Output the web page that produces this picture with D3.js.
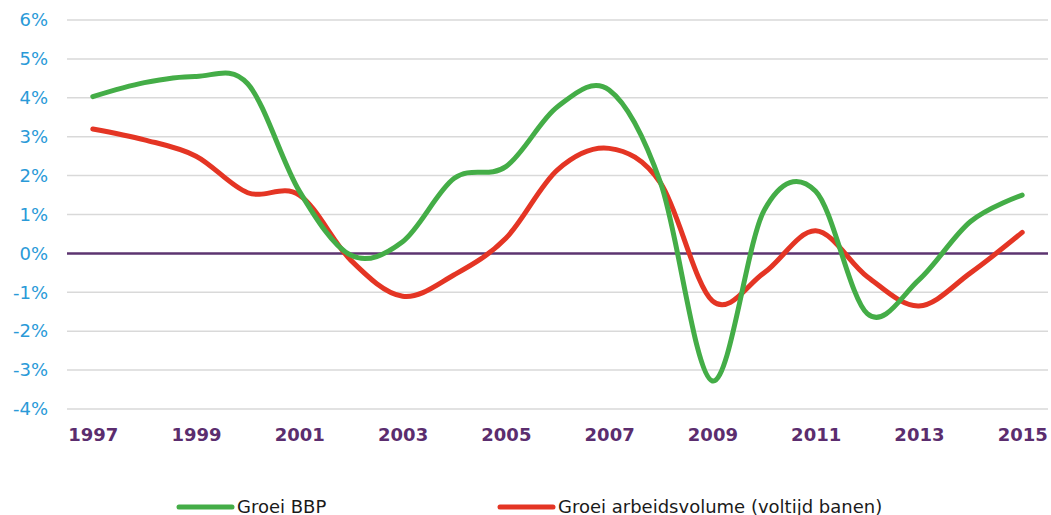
<!DOCTYPE html>
<html>
<head>
<meta charset="utf-8">
<script src="https://cdnjs.cloudflare.com/ajax/libs/d3/7.8.5/d3.min.js"></script>
<style>
  body { margin: 0; background: #fff; }
  svg { display: block; font-family: "DejaVu Sans", Verdana, sans-serif; }
</style>
</head>
<body>
<svg id="chart" width="1051" height="515"></svg>
<script>

// jaren en reeksen (groei in %)
var years = [1997,1998,1999,2000,2001,2002,2003,2004,2005,2006,2007,2008,2009,2010,2011,2012,2013,2014,2015]
var groeiBBP = [4.03,4.39,4.55,4.36,1.6,-0.05,0.3,1.93,2.23,3.77,4.2,1.8,-3.28,1.1,1.6,-1.55,-0.68,0.82,1.5]
var groeiArbeid = [3.2,2.92,2.5,1.56,1.5,-0.18,-1.1,-0.55,0.39,2.15,2.7,1.8,-1.22,-0.5,0.58,-0.6,-1.35,-0.5,0.54]
var yTicks = [-4,-3,-2,-1,0,1,2,3,4,5,6]
var xTicks = [1997,1999,2001,2003,2005,2007,2009,2011,2013,2015]
var seriesNames = ["Groei BBP", "Groei arbeidsvolume (voltijd banen)"]

var svg = d3.select("#chart")

var x = d3.scalePoint().domain(years).range([67, 1048]).padding(0.5)
var y = d3.scaleLinear().domain([-4, 6]).range([409, 20])

// gridlijnen
svg.append("g")
  .selectAll("line")
  .data(yTicks.filter(d=>d!=0))
  .join("line")
    .attr("x1", 67).attr("x2", 1048)
    .attr("y1", d=>y(d)).attr("y2", d=>y(d))
    .attr("stroke", "#d9d9d9")
    .attr("stroke-width", 1.5)

// y-as labels
var yAxis = svg.append("g")
  .attr("transform", "translate(62,0)")
  .call(d3.axisLeft(y).tickValues(yTicks).tickSize(0).tickPadding(14).tickFormat(d=>d+"%"))
yAxis.select(".domain").remove()
yAxis.selectAll("text")
  .attr("font-size", "18px")
  .attr("font-family", "DejaVu Sans, Verdana, sans-serif")
  .attr("fill", "#2a9ad8")

// x-as labels
var xAxis = svg.append("g")
  .attr("transform", "translate(0,420)")
  .call(d3.axisBottom(x).tickValues(xTicks).tickSize(0).tickPadding(8))
xAxis.select(".domain").remove()
xAxis.selectAll("text")
  .attr("font-size", "18px")
  .attr("font-weight", "bold")
  .attr("font-family", "DejaVu Sans, Verdana, sans-serif")
  .attr("fill", "#5b2d6e")

// nul-lijn
svg.append("line")
  .attr("x1", 67).attr("x2", 1048)
  .attr("y1", y(0)).attr("y2", y(0))
  .attr("stroke", "#5c3470")
  .attr("stroke-width", 2.5)

var line = d3.line()
  .x((d,i)=>x(years[i]))
  .y(d=>y(d))
  .curve(d3.curveCardinal.tension(0))

var colors = ["#44ad47", "#e43524"]

svg.append("path")
  .attr("d", line(groeiArbeid))
  .attr("fill", "none")
  .attr("stroke", colors[1])
  .attr("stroke-width", 5)
  .attr("stroke-linecap", "round")

svg.append("path")
  .attr("d", line(groeiBBP))
  .attr("fill", "none")
  .attr("stroke", colors[0])
  .attr("stroke-width", 5)
  .attr("stroke-linecap", "round")

// legenda
var legendX = [179, 500]
var legend = svg.append("g")
  .selectAll("g")
  .data(seriesNames)
  .join("g")
    .attr("transform", (d,i)=>"translate(" + legendX[i] + ",507)")
legend.append("line")
  .attr("x1", 0).attr("x2", 53)
  .attr("stroke", (d,i)=>colors[i])
  .attr("stroke-width", 5)
  .attr("stroke-linecap", "round")
legend.append("text")
  .attr("x", 58)
  .attr("y", 6)
  .attr("font-size", "18px")
  .attr("fill", "#1a1a1a")
  .text(d=>d)

</script>
</body>
</html>
